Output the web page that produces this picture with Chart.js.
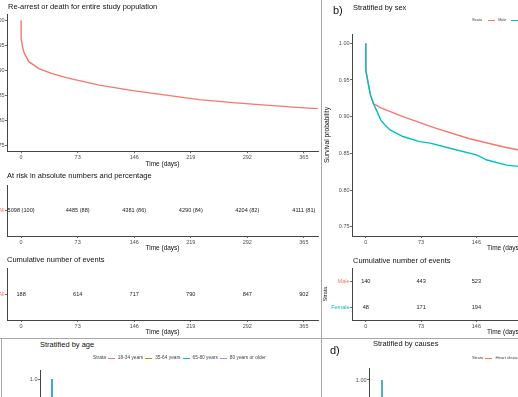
<!DOCTYPE html>
<html>
<head>
<meta charset="utf-8">
<script src="https://cdn.jsdelivr.net/npm/chart.js@4.4.1/dist/chart.umd.min.js"></script>
<style>
body{margin:0;background:#fff;font-family:"Liberation Sans",Arial,sans-serif}
#fig{position:relative;width:518px;height:397px;overflow:hidden;background:#fff}
#fig canvas{position:absolute}
.t{position:absolute;white-space:nowrap;color:#111;line-height:1}
.lg{position:absolute;white-space:nowrap;color:#444;line-height:1;display:flex;align-items:center}
.lg i{display:inline-block;width:7px;height:1px;margin:0 3px 0 2px}
.sep{position:absolute;background:#a8a8a8}
</style>
</head>
<body>
<div id="fig">
  <div class="sep" style="left:321px;top:0;width:1px;height:397px"></div>
  <div class="sep" style="left:0;top:338px;width:518px;height:1px"></div>
  <div class="sep" style="left:1px;top:338px;width:1px;height:59px"></div>

  <canvas id="cA" width="360" height="170" style="left:-40px;top:0"></canvas>
  <canvas id="cR" width="360" height="75" style="left:-40px;top:178px"></canvas>
  <canvas id="cE" width="360" height="75" style="left:-40px;top:262px"></canvas>
  <canvas id="cB" width="360" height="228" style="left:320px;top:28px"></canvas>
  <canvas id="cBE" width="360" height="75" style="left:320px;top:262px"></canvas>
  <canvas id="cC" width="321" height="228" style="left:0;top:362px"></canvas>
  <canvas id="cD" width="360" height="292" style="left:330px;top:360px"></canvas>

  <div class="t" style="left:8px;top:3px;font-size:7.5px">Re-arrest or death for entire study population</div>
  <div class="t" style="left:7px;top:172px;font-size:7.5px">At risk in absolute numbers and percentage</div>
  <div class="t" style="left:7px;top:256px;font-size:7.5px">Cumulative number of events</div>

  <div class="t" style="left:333px;top:5px;font-size:11px">b)</div>
  <div class="t" style="left:353px;top:3.5px;font-size:7.5px">Stratified by sex</div>
  <div class="lg" style="left:472px;top:19px;font-size:3.8px">Strata<i style="margin-left:6px;background:#F8766D"></i>Male<i style="margin-left:5px;background:#00BFC4"></i>Female</div>
  <div class="t" style="left:353px;top:257px;font-size:7.5px">Cumulative number of events</div>

  <div class="t" style="left:40px;top:341px;font-size:7.5px">Stratified by age</div>
  <div class="lg" style="left:93px;top:356px;font-size:4.8px">Strata<i style="background:#F8766D"></i>18-34 years<i style="background:#7CAE00"></i>35-64 years<i style="background:#00BFC4"></i>65-80 years<i style="background:#C77CFF"></i>80 years or older</div>

  <div class="t" style="left:330px;top:345px;font-size:11px">d)</div>
  <div class="t" style="left:373px;top:340px;font-size:7.5px">Stratified by causes</div>
  <div class="lg" style="left:472px;top:356px;font-size:4.3px">Strata<i style="background:#F8766D"></i>Heart disease<i style="background:#00BFC4"></i>Other causes</div>
</div>
<script>
var F = 'Liberation Sans';
var RED = '#F8766D', GREEN = '#7CAE00', TEAL = '#00BFC4', PURPLE = '#C77CFF';

// time ticks (days)
var days = [0, 73, 146, 219, 292, 365];

// a) whole population curve
var allDays = [0, 0, 2, 4, 10, 23, 40, 58, 75, 101, 144, 187, 230, 273, 316, 360, 383];
var allSurv = [1, 0.963, 0.945, 0.934, 0.917, 0.903, 0.893, 0.885, 0.879, 0.870, 0.859, 0.850, 0.841, 0.835, 0.830, 0.825, 0.823];
var riskN = [5098, 4485, 4381, 4290, 4204, 4111];
var riskPct = [100, 88, 86, 84, 82, 81];
var eventsAll = [188, 614, 717, 790, 847, 902];

// b) by sex
var maleDays = [0, 0, 6, 10, 20, 49, 93, 137, 181, 205];
var maleSurv = [1, 0.964, 0.930, 0.918, 0.912, 0.900, 0.884, 0.870, 0.859, 0.854];
var femaleDays = [0, 0, 6, 10, 14, 20, 25, 32, 49, 71, 85, 115, 146, 160, 186, 205];
var femaleSurv = [1, 0.962, 0.930, 0.918, 0.909, 0.895, 0.889, 0.882, 0.873, 0.866, 0.864, 0.856, 0.848, 0.841, 0.834, 0.832];
var sexDays = [0, 73, 146];
var eventsMale = [140, 443, 523];
var eventsFemale = [48, 171, 194];

// c) by age (only the start is visible)
var ageDays = [0, 0, 30, 383];
var age1834 = [1, 0.94, 0.85, 0.78];
var age3564 = [1, 0.95, 0.88, 0.82];
var age6580 = [1, 0.93, 0.86, 0.80];
var age80 = [1, 0.92, 0.84, 0.76];

// d) by causes (only the start is visible)
var causeDays = [0, 0, 30, 383];
var heart = [1, 0.93, 0.88, 0.83];
var other = [1, 0.91, 0.86, 0.80];

function pts(xs, ys) {
  var out = [];
  for (var i = 0; i < xs.length; i++) {
    out.push({x: xs[i], y: ys[i]});
  }
  return out;
}

function curve(xs, ys, color, order) {
  return {data: pts(xs, ys), borderColor: color, borderWidth: 1.4, pointRadius: 0, tension: 0, fill: false, order: order || 0};
}

function textRow(xs, texts, row) {
  var d = [];
  for (var i = 0; i < xs.length; i++) d.push({x: xs[i], y: row});
  return {data: d, texts: texts, showLine: false, pointRadius: 0};
}

// writes table numbers at their scale positions
var tableText = {
  id: 'tableText',
  afterDatasetsDraw: function(chart) {
    var ctx = chart.ctx;
    chart.data.datasets.forEach(function(ds, i) {
      if (!ds.texts) return;
      var meta = chart.getDatasetMeta(i);
      ctx.save();
      ctx.font = '5.6px "' + F + '"';
      ctx.fillStyle = '#222';
      ctx.textAlign = 'center';
      ctx.textBaseline = 'middle';
      meta.data.forEach(function(p, j) {
        ctx.fillText(ds.texts[j], p.x, p.y);
      });
      ctx.restore();
    });
  }
};

function xAxis(o) {
  return {
    type: 'linear', min: -18.25, max: 383.25,
    afterBuildTicks: function(s) { s.ticks = days.map(function(d) { return {value: d}; }); },
    afterFit: function(s) { s.height = o.xHeight; },
    grid: {drawOnChartArea: false, drawTicks: true, tickLength: 2, color: '#444', lineWidth: 0.8},
    border: {display: true, color: '#444', width: 1},
    ticks: {font: {size: 5.5, family: F}, color: '#4d4d4d', padding: 1, maxRotation: 0, autoSkip: false},
    title: {display: true, text: 'Time (days)', font: {size: 6.5, family: F}, color: '#111', padding: {top: 0, bottom: o.xTitlePad}}
  };
}

function yLinear(o) {
  return {
    type: 'linear', min: o.min, max: o.max,
    afterBuildTicks: function(s) { s.ticks = o.ticks.map(function(v) { return {value: v}; }); },
    afterFit: function(s) { s.width = o.yWidth; },
    grid: {drawOnChartArea: false, drawTicks: true, tickLength: 2, color: '#444', lineWidth: 0.8},
    border: {display: true, color: '#444', width: 1},
    ticks: {font: {size: 5.5, family: F}, color: '#4d4d4d', padding: 0.5,
      callback: function(v) { return v.toFixed(o.dec); }},
    title: {display: !!o.title, text: o.title || '', font: {size: 6.7, family: F}, color: '#111', padding: {top: o.titlePad || 0, bottom: 0}}
  };
}

function yRows(o) {
  return {
    type: 'category', labels: o.labels, offset: true,
    afterFit: function(s) { s.width = o.yWidth; },
    grid: {drawOnChartArea: false, drawTicks: true, tickLength: 2, color: '#444', lineWidth: 0.8},
    border: {display: true, color: '#444', width: 1},
    ticks: {font: {size: 5.5, family: F}, padding: 0.5,
      color: function(c) { return o.colors[c.index]; }},
    title: {display: !!o.title, text: o.title || '', font: {size: 5.5, family: F}, color: '#111', padding: {top: o.titlePad || 0, bottom: 0}}
  };
}

function makeChart(id, datasets, pad, x, y) {
  return new Chart(document.getElementById(id), {
    type: 'line',
    data: {datasets: datasets},
    options: {
      responsive: false, animation: false,
      layout: {padding: {top: pad[0], right: pad[1], bottom: 0, left: 0}},
      plugins: {legend: {display: false}, tooltip: {enabled: false}},
      scales: {x: x, y: y}
    },
    plugins: [tableText]
  });
}

var survTicks = [0.75, 0.8, 0.85, 0.9, 0.95, 1.0];

// a) main curve
makeChart('cA', [curve(allDays, allSurv, RED)], [14, 2],
  xAxis({xHeight: 18.75, xTitlePad: 2}),
  yLinear({min: 0.7375, max: 1.0125, ticks: survTicks, dec: 2, yWidth: 47}));

// a) at risk table
var riskTexts = riskN.map(function(n, i) { return n + ' (' + riskPct[i] + ')'; });
makeChart('cR', [textRow(days, riskTexts, 'All')], [7, 2],
  xAxis({xHeight: 17, xTitlePad: 1.1}),
  yRows({labels: ['All'], colors: [RED], yWidth: 47}));

// a) cumulative events
makeChart('cE', [textRow(days, eventsAll.map(String), 'All')], [6, 2],
  xAxis({xHeight: 17, xTitlePad: 0.4}),
  yRows({labels: ['All'], colors: [RED], yWidth: 47}));

// b) by sex
makeChart('cB', [curve(maleDays, maleSurv, RED, 1), curve(femaleDays, femaleSurv, TEAL, 0)], [6.1, 24],
  xAxis({xHeight: 20, xTitlePad: 3.8}),
  yLinear({min: 0.7375, max: 1.0125, ticks: survTicks, dec: 2, yWidth: 32, title: 'Survival probability', titlePad: 3}));

makeChart('cBE', [textRow(sexDays, eventsMale.map(String), 'Male'), textRow(sexDays, eventsFemale.map(String), 'Female')], [6, 24],
  xAxis({xHeight: 17, xTitlePad: 0.4}),
  yRows({labels: ['Male', 'Female'], colors: [RED, TEAL], yWidth: 32, title: 'Strata', titlePad: 1.7}));

// c) by age
makeChart('cC', [curve(ageDays, age1834, RED, 3), curve(ageDays, age3564, GREEN, 2), curve(ageDays, age80, PURPLE, 1), curve(ageDays, age6580, TEAL, 0)], [8, 17],
  xAxis({xHeight: 20, xTitlePad: 2}),
  yLinear({min: 0.58, max: 1.02, ticks: [0.6, 0.7, 0.8, 0.9, 1.0], dec: 1, yWidth: 40}));

// d) by causes
makeChart('cD', [curve(causeDays, heart, RED, 1), curve(causeDays, other, TEAL, 0)], [8, 35],
  xAxis({xHeight: 20, xTitlePad: 2}),
  yLinear({min: 0.475, max: 1.025, ticks: [0.5, 0.75, 1.0], dec: 2, yWidth: 39}));
</script>
</body>
</html>
